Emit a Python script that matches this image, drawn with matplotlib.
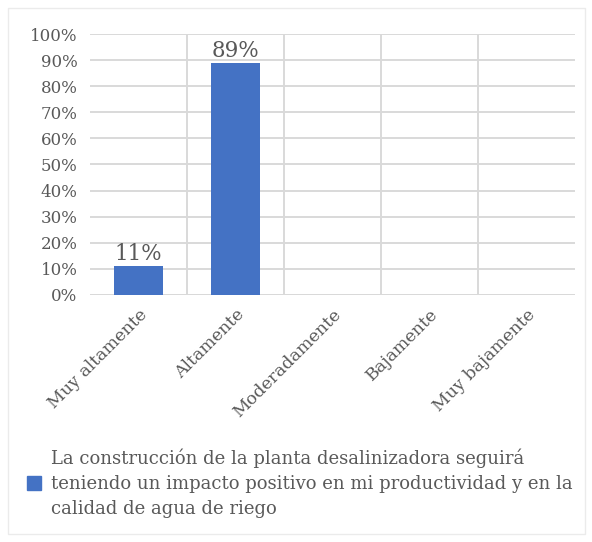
import matplotlib
matplotlib.use("Agg")
import matplotlib.pyplot as plt
from matplotlib.patches import Rectangle

categories = ["Muy altamente", "Altamente", "Moderadamente", "Bajamente", "Muy bajamente"]
values = [11, 89, 0, 0, 0]
bar_labels = ["11%", "89%", "", "", ""]
yticks = [0, 10, 20, 30, 40, 50, 60, 70, 80, 90, 100]
legend_text = ("La construcción de la planta desalinizadora seguirá\n"
               "teniendo un impacto positivo en mi productividad y en la\n"
               "calidad de agua de riego")

BLUE = "#4472C4"
GRAY = "#595959"
GRID = "#D9D9D9"

plt.rcParams["font.family"] = ["DejaVu Serif"]

fig = plt.figure(figsize=(5.92, 5.42), dpi=100)
ax = fig.add_axes([0.152, 0.456, 0.819, 0.481])

x = range(len(categories))
ax.bar(x, values, width=0.5, color=BLUE, zorder=3)
for i, (v, lab) in enumerate(zip(values, bar_labels)):
    if lab:
        ax.text(i, v + 0.3, lab, ha="center", va="bottom", fontsize=15.5, color=GRAY, zorder=4)

ax.set_xlim(-0.5, len(categories) - 0.5)
ax.set_ylim(0, 100)
ax.set_yticks(yticks)
ax.set_yticklabels([f"{t}%" for t in yticks], fontsize=12, color=GRAY)
ax.yaxis.grid(True, color=GRID, lw=1.4, zorder=0)
for b in [i + 0.5 for i in range(len(categories) - 1)]:
    ax.axvline(b, color=GRID, lw=1.4, zorder=0)
ax.set_xticks(list(x))
ax.set_xticklabels(categories, rotation=45, ha="right", rotation_mode="anchor",
                   fontsize=12.5, color=GRAY)
ax.tick_params(axis="x", length=0, pad=8)
ax.tick_params(axis="y", length=0, pad=9)
for s in ax.spines.values():
    s.set_visible(False)
ax.axhline(0, color=GRID, lw=1.4, zorder=2)

# legend
fig.patches.append(Rectangle((27 / 592, 1 - 490 / 542), 14 / 592, 14 / 542,
                             transform=fig.transFigure, color=BLUE))
fig.text(51 / 592, 1 - 483 / 542, legend_text, fontsize=13, color=GRAY,
         va="center", ha="left", linespacing=1.5)

# outer chart border
fig.patches.append(Rectangle((8 / 592, 8 / 542), 577 / 592, 526 / 542,
                             transform=fig.transFigure, fill=False,
                             edgecolor="#EBEBEB", lw=1))

fig.savefig("out.png", dpi=100, facecolor="white")
